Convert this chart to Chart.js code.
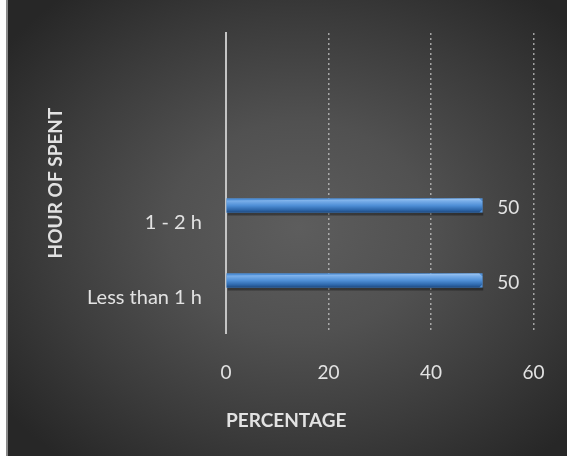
<!DOCTYPE html>
<html>
<head>
<meta charset="utf-8">
<script src="https://cdn.jsdelivr.net/npm/chart.js@4/dist/chart.umd.min.js"></script>
<style>
  html, body { margin: 0; padding: 0; background: #ffffff; }
  #frame { position: relative; width: 567px; height: 456px; overflow: hidden; }
  #bg {
    position: absolute; left: 6px; top: 0; right: 0; bottom: 0;
    border-left: 2px solid #8a8a8a;
    background: radial-gradient(ellipse 66% 66% at 52% 50%, #5d5d5d 0%, #515151 35%, #3b3b3b 70%, #272727 100%);
  }
  #wrap { position: absolute; left: 0; top: 0; width: 567px; height: 456px; }
</style>
</head>
<body>
<div id="frame">
  <div id="bg"></div>
  <div id="wrap"><canvas id="chart" width="567" height="456"></canvas></div>
</div>
<script>
// Hours spent per day, share of respondents (%)
const categories = ['1 - 2 h', 'Less than 1 h'];
const percentages = [50, 50];
const xTicks = [0, 20, 40, 60];

const FONT = 'Lato, "Open Sans", sans-serif';
const TEXT = '#e2e2e2';
const Y_MIN = -2.3, Y_MAX = 1.7;

// Glossy tube look painted over each bar, using the bar element geometry
const tubeBars = {
  id: 'tubeBars',
  afterDatasetsDraw(chart) {
    const ctx = chart.ctx;
    chart.getDatasetMeta(0).data.forEach(bar => {
      const top = bar.y - bar.height / 2;
      const h = bar.height;
      const left = bar.base;
      const right = bar.x;
      ctx.save();
      ctx.fillStyle = 'rgba(0,0,0,0.35)';
      ctx.fillRect(left + 1, top + h, right - left, 3);
      const g = ctx.createLinearGradient(0, top, 0, top + h);
      g.addColorStop(0, '#9fc7f2');
      g.addColorStop(0.18, '#79aee9');
      g.addColorStop(0.5, '#4f8fd6');
      g.addColorStop(0.8, '#2f69ad');
      g.addColorStop(1, '#1f4a80');
      ctx.fillStyle = g;
      ctx.beginPath();
      ctx.moveTo(left, top + 2);
      ctx.lineTo(right - 3, top);
      ctx.lineTo(right, top + 3);
      ctx.lineTo(right, top + h - 3);
      ctx.lineTo(right - 3, top + h);
      ctx.lineTo(left, top + h);
      ctx.closePath();
      ctx.fill();
      ctx.restore();
    });
  }
};

// Value labels to the right of each bar
const valueLabels = {
  id: 'valueLabels',
  afterDatasetsDraw(chart) {
    const ctx = chart.ctx;
    ctx.save();
    ctx.font = '19px ' + FONT;
    ctx.fillStyle = TEXT;
    ctx.textAlign = 'left';
    ctx.textBaseline = 'middle';
    chart.getDatasetMeta(0).data.forEach((bar, i) => {
      ctx.fillText(String(percentages[i]), bar.x + 15, bar.y + 2);
    });
    ctx.restore();
  }
};

new Chart(document.getElementById('chart'), {
  type: 'bar',
  data: {
    datasets: [{
      data: categories.map((c, i) => ({ x: percentages[i], y: i })),
      backgroundColor: '#4f8fd6',
      borderWidth: 0,
      barThickness: 14
    }]
  },
  options: {
    indexAxis: 'y',
    responsive: false,
    animation: false,
    layout: { padding: { top: 33, right: 33.5, left: 44, bottom: 0 } },
    plugins: { legend: { display: false }, tooltip: { enabled: false } },
    scales: {
      x: {
        type: 'linear',
        min: xTicks[0],
        max: xTicks[xTicks.length - 1],
        afterBuildTicks: s => { s.ticks = xTicks.map(v => ({ value: v })); },
        afterFit: s => { s.height = 123; s.paddingLeft = 0; s.paddingRight = 0; },
        border: { display: false, dash: [2, 3] },
        grid: {
          drawTicks: false,
          color: c => (c.tick && c.tick.value === 0) ? 'rgba(0,0,0,0)' : 'rgba(200,200,200,0.75)',
          lineWidth: 1.5
        },
        ticks: { color: TEXT, font: { family: FONT, size: 19 }, padding: 28 },
        title: {
          display: true, text: 'PERCENTAGE', align: 'start',
          color: TEXT, font: { family: FONT, size: 19, weight: 'bold' },
          padding: { top: 0, bottom: 24 }
        }
      },
      y: {
        type: 'linear',
        reverse: true,
        offset: false,
        bounds: 'data',
        grace: 0,
        min: Y_MIN,
        max: Y_MAX,
        afterDataLimits: s => { s.min = Y_MIN; s.max = Y_MAX; },
        afterBuildTicks: s => {
          s.min = Y_MIN; s.max = Y_MAX;
          s.ticks = categories.map((c, i) => ({ value: i }));
        },
        afterFit: s => { s.width = 182; s.paddingTop = 0; s.paddingBottom = 0; },
        border: { display: true, color: '#c4c4c4', width: 2 },
        grid: { display: false, drawTicks: false },
        ticks: {
          color: TEXT, font: { family: FONT, size: 20 }, padding: 24, labelOffset: 17,
          callback: v => categories[v]
        },
        title: {
          display: true, text: 'HOUR OF SPENT',
          color: TEXT, font: { family: FONT, size: 19, weight: 'bold' },
          padding: 0
        }
      }
    }
  },
  plugins: [tubeBars, valueLabels]
});
</script>
</body>
</html>
